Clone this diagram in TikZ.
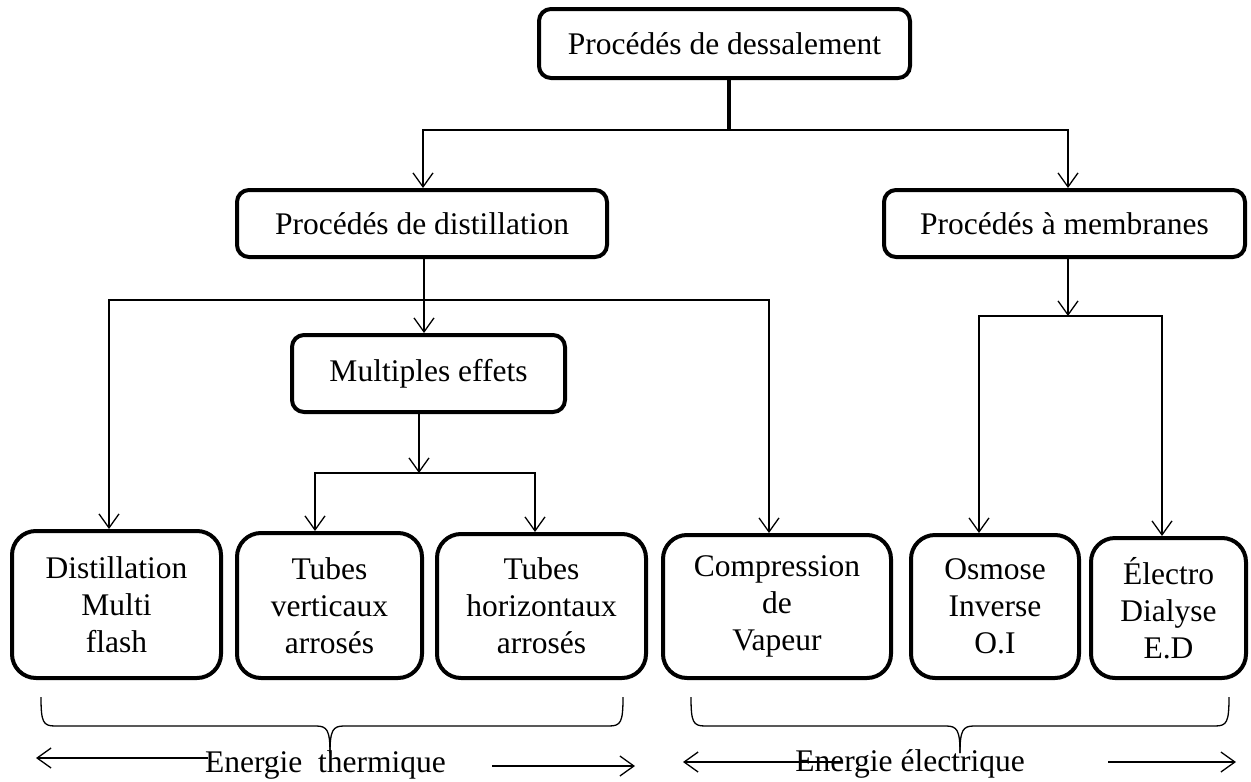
\documentclass[tikz,border=0pt]{standalone}
\usepackage{fontspec}
\setmainfont{Liberation Serif}
\usetikzlibrary{arrows.meta}
\begin{document}
\begin{tikzpicture}[x=1pt,y=-1pt,
  box/.style={draw, line width=4pt, rounded corners=12pt, inner sep=0pt, align=center, font=\fontsize{31.5}{37}\selectfont},
  bigbox/.style={box, rounded corners=24pt},
  conn/.style={line width=1.3pt, line join=miter},
  arr/.style={conn, -{Straight Barb[length=14pt,width=20pt]}},
  arrr/.style={conn, {Straight Barb[length=14pt,width=20pt]}-{Straight Barb[length=14pt,width=20pt]}},
  brace/.style={line width=1.3pt},
  lbl/.style={font=\fontsize{31.5}{37}\selectfont, inner sep=0pt}]
\useasboundingbox (0,0) rectangle (1251,782);

% boxes
\node[box, minimum width=371pt, minimum height=69pt] (top) at (724.5,43.5) {Procédés de dessalement};
\node[box, minimum width=370pt, minimum height=67pt] (dist) at (422,223.5) {Procédés de distillation};
\node[box, minimum width=361pt, minimum height=67pt] (memb) at (1064.5,223.5) {Procédés à membranes};
\node[box, minimum width=273pt, minimum height=77pt] (mult) at (428.5,373.5) {Multiples effets};
\node[bigbox, minimum width=209pt, minimum height=147pt] (dmf) at (116.5,604.5) {Distillation\\Multi\\flash};
\node[bigbox, minimum width=185pt, minimum height=145pt] (tv) at (329.5,605.5) {Tubes\\verticaux\\arrosés};
\node[bigbox, minimum width=209pt, minimum height=144pt] (th) at (541.5,606) {Tubes\\horizontaux\\arrosés};
\node[bigbox, minimum width=228pt, minimum height=143pt] (comp) at (777,606.5) {Compression\\de\\Vapeur};
\node[bigbox, minimum width=168pt, minimum height=143pt] (oi) at (995,606.5) {Osmose\\Inverse\\O.I};
\node[bigbox, minimum width=155pt, minimum height=140pt] (ed) at (1168.5,608) {Électro\\Dialyse\\E.D};

% level 1
\coordinate (j0) at (729,130);
\coordinate (jl) at (423,130);
\coordinate (jr) at (1068,130);
\draw[line width=4pt] (top.south -| j0) -- (j0);
\draw[arrr] (dist.north -| jl) -- (jl) -- (jr) -- (memb.north -| jr);

% distillation branch
\coordinate (k0) at (424,300);
\coordinate (kl) at (109,300);
\coordinate (kr) at (769,300);
\draw[arr] (dist.south -| k0) -- (mult.north -| k0);
\draw[arrr] (dmf.north -| kl) -- (kl) -- (kr) -- (comp.north -| kr);

% multiples effets branch
\coordinate (m0) at (419,473);
\coordinate (ml) at (315,473);
\coordinate (mr) at (535,473);
\draw[arr] (mult.south -| m0) -- (m0);
\draw[arrr] (tv.north -| ml) -- (ml) -- (mr) -- (th.north -| mr);

% membranes branch
\coordinate (n0) at (1068,316);
\coordinate (nl) at (979,316);
\coordinate (nr) at (1162,316);
\draw[arr] (memb.south -| n0) -- (n0);
\draw[arrr] (oi.north -| nl) -- (nl) -- (nr) -- (ed.north -| nr);

% braces
\draw[brace] (41,697) .. controls (41,722) and (43,726) .. (55,726) -- (316,726) .. controls (327,726) and (330,730) .. (330,753);
\draw[brace] (330,753) .. controls (330,730) and (333,726) .. (344,726) -- (609,726) .. controls (621,726) and (623,722) .. (623,697);
\draw[brace] (691,697) .. controls (691,722) and (693,726) .. (705,726) -- (946,726) .. controls (957,726) and (960,730) .. (960,753);
\draw[brace] (960,753) .. controls (960,730) and (963,726) .. (974,726) -- (1215,726) .. controls (1227,726) and (1229,722) .. (1229,697);

% energy labels
\node[lbl, anchor=base] (et) at (325.5,772) {Energie\ \ thermique};
\node[lbl, anchor=base] (ee) at (910,771) {Energie électrique};
\coordinate (a1) at (36,758);
\coordinate (a2) at (635,766);
\coordinate (a3) at (683,762);
\coordinate (a4) at (1236,762);
\draw[arr] (et.west |- a1) ++(3,0) -- (a1);
\draw[arr] (492,766) -- (a2);
\draw[arr] (843,762) -- (a3);
\draw[arr] (1108,762) -- (a4);
\end{tikzpicture}
\end{document}
